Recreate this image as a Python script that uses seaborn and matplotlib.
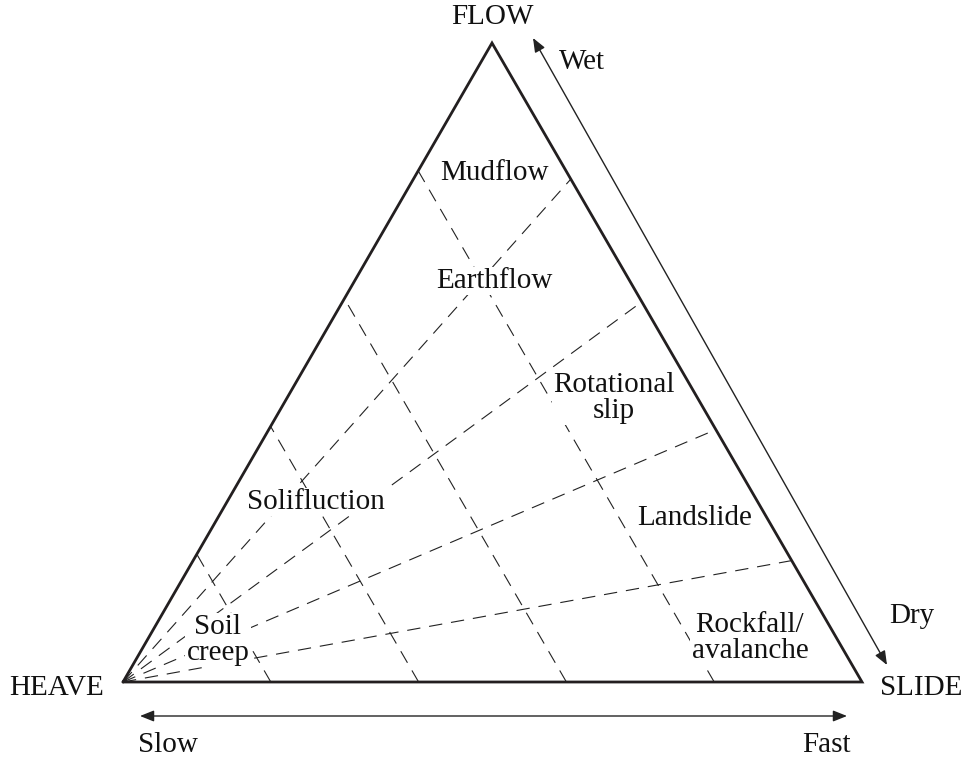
import numpy as np
import pandas as pd
import matplotlib
matplotlib.use("Agg")
import matplotlib.pyplot as plt
import seaborn as sns

# Triangle corners (canvas px, y pointing down)
corner_names = ["HEAVE", "SLIDE", "FLOW"]
corner_xy = {"HEAVE": (123, 682), "SLIDE": (862, 682), "FLOW": (492, 43)}

# dashed lines parallel to FLOW-SLIDE side, fraction along the base
heave_cuts = [0.2, 0.4, 0.6, 0.8]
# dashed fan lines from HEAVE, fraction down the FLOW-SLIDE side
fan_ends = [0.213, 0.405, 0.605, 0.81]

# process labels and where they sit
process_names = ["Mudflow", "Earthflow", "Rotational\nslip", "Solifluction",
                 "Landslide", "Soil\ncreep", "Rockfall/\navalanche"]
process_x = [494, 494, 614, 316, 695, 218, 750]
process_y = [173, 281, 398, 502, 518, 640, 638]

sns.set_theme(style="white")
plt.rcParams['font.family'] = ['Liberation Serif', 'DejaVu Serif']

fig = plt.figure(figsize=(9.68, 7.59), dpi=100)
ax = fig.add_axes([0, 0, 1, 1])
ax.set_xlim(0, 968)
ax.set_ylim(759, 0)
ax.axis("off")

H = np.array(corner_xy["HEAVE"], dtype=float)
S = np.array(corner_xy["SLIDE"], dtype=float)
F = np.array(corner_xy["FLOW"], dtype=float)

# build the dashed guide lines as a long table
rows = []
for i, f in enumerate(heave_cuts):
    a = H + f * (S - H)
    b = H + f * (F - H)
    rows += [("cut%d" % i, a[0], a[1]), ("cut%d" % i, b[0], b[1])]
for i, t in enumerate(fan_ends):
    e = F + t * (S - F)
    rows += [("fan%d" % i, H[0], H[1]), ("fan%d" % i, e[0], e[1])]
guides = pd.DataFrame(rows, columns=["line", "x", "y"])

sns.lineplot(data=guides, x="x", y="y", units="line", estimator=None, sort=False,
             color="#222222", lw=0.8, dashes=False, ax=ax, legend=False)
for l in ax.lines:
    l.set_dashes((12, 8))

# outline
tri = pd.DataFrame({"x": [H[0], S[0], F[0], H[0]], "y": [H[1], S[1], F[1], H[1]]})
sns.lineplot(data=tri, x="x", y="y", sort=False, estimator=None,
             color="#231f20", lw=2.0, ax=ax)
ax.lines[-1].set_solid_joinstyle("miter")
ax.lines[-1].set_zorder(6)

fs = 21
box = dict(facecolor="white", edgecolor="none", pad=1.0)
for name, x, y in zip(process_names, process_x, process_y):
    ax.text(x, y, name, ha="center", va="center", fontsize=fs,
            linespacing=0.95, color="#111111", bbox=box, zorder=5)

ax.text(492, 17, "FLOW", ha="center", va="center", fontsize=fs, color="#111111")
ax.text(57, 688, "HEAVE", ha="center", va="center", fontsize=fs, color="#111111")
ax.text(921, 688, "SLIDE", ha="center", va="center", fontsize=fs, color="#111111")

# wet/dry arrow along the right side
ap = dict(arrowstyle="<|-|>,head_length=0.7,head_width=0.28", color="#222222",
          lw=1.0, shrinkA=0, shrinkB=0)
ax.annotate("", xy=(533, 38), xytext=(887, 665), arrowprops=ap)
ax.text(582, 62, "Wet", ha="center", va="center", fontsize=fs, color="#111111")
ax.text(912, 616, "Dry", ha="center", va="center", fontsize=fs, color="#111111")

# slow/fast arrow under the base
ax.annotate("", xy=(140, 716), xytext=(847, 716), arrowprops=ap)
ax.text(168, 745, "Slow", ha="center", va="center", fontsize=fs, color="#111111")
ax.text(826, 745, "Fast", ha="center", va="center", fontsize=fs, color="#111111")

fig.savefig("out.png", dpi=100, facecolor="white")
